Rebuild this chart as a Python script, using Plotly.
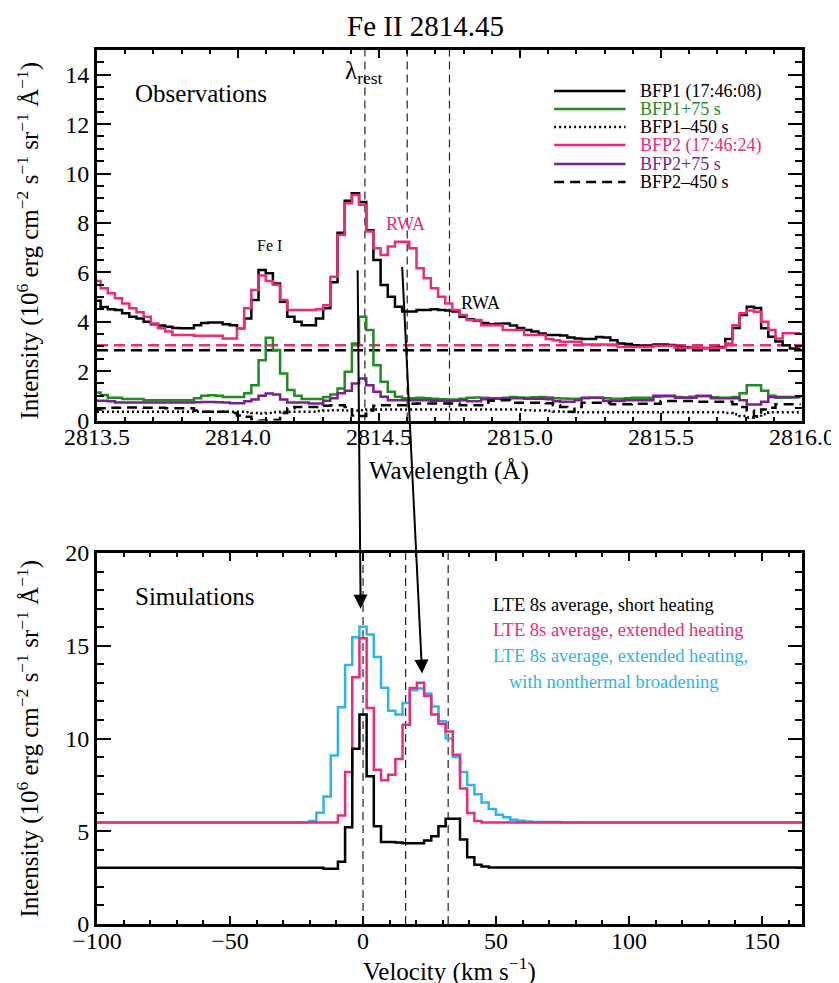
import numpy as np
import plotly.graph_objects as go

# ---------------- DATA ----------------
# Observations: IRIS spectra around Fe II 2814.45, sampled on a regular wavelength grid
WAVE_START = 2813.5
WAVE_STEP = 0.02546

bfp1 = [4.85, 4.60, 4.50, 4.47, 4.34, 4.20, 4.13, 4.00, 3.90, 3.85,
        3.80, 3.75, 3.73, 3.73, 3.86, 3.95, 3.97, 3.97, 3.90, 3.86,
        3.73, 4.13, 4.88, 6.09, 5.96, 5.55, 4.81, 4.20, 4.00, 3.86,
        3.86, 4.13, 4.54, 5.60, 7.60, 8.90, 9.20, 8.85, 7.70, 6.50,
        5.49, 5.01, 4.61, 4.41, 4.41, 4.47, 4.47, 4.50, 4.47, 4.45,
        4.41, 4.20, 4.10, 4.05, 3.95, 3.90, 3.92, 3.93, 3.85, 3.75,
        3.66, 3.60, 3.52, 3.46, 3.46, 3.44, 3.36, 3.32, 3.30, 3.30,
        3.38, 3.36, 3.25, 3.12, 3.10, 3.05, 3.03, 3.03, 3.08, 3.08,
        3.06, 2.98, 2.97, 2.95, 2.94, 2.93, 2.96, 2.98, 3.30, 3.75,
        4.27, 4.61, 4.55, 3.73, 3.39, 3.20, 3.05, 2.92, 2.90]

bfp1_p75 = [1.13, 1.03, 0.92, 0.92, 0.87, 0.87, 0.87, 0.82, 0.82, 0.82,
            0.82, 0.82, 0.82, 0.82, 0.90, 1.00, 1.02, 1.00, 0.95, 0.95,
            0.95, 1.10, 1.43, 2.44, 3.35, 2.85, 1.90, 1.23, 1.00, 0.87,
            0.87, 0.87, 0.95, 1.05, 1.30, 1.97, 3.12, 4.20, 3.66, 2.24,
            1.57, 1.16, 0.96, 0.90, 0.90, 0.92, 0.90, 0.88, 0.86, 0.85,
            0.85, 0.88, 0.92, 0.93, 0.92, 0.90, 0.90, 0.92, 0.95, 0.93,
            0.92, 0.94, 0.95, 0.93, 0.90, 0.89, 0.88, 0.88, 0.90, 0.92,
            0.92, 0.90, 0.88, 0.88, 0.90, 0.92, 0.92, 0.92, 0.96, 0.98,
            0.98, 0.95, 0.93, 0.96, 0.98, 0.98, 0.94, 0.92, 0.92, 0.95,
            1.10, 1.43, 1.43, 1.20, 1.00, 0.92, 0.92, 0.93, 0.95]

bfp1_m450 = [0.35, 0.35, 0.35, 0.35, 0.35, 0.35, 0.35, 0.35, 0.35, 0.35,
             0.35, 0.35, 0.35, 0.35, 0.35, 0.35, 0.35, 0.35, 0.35, 0.35,
             0.35, 0.33, 0.30, 0.28, 0.30, 0.33, 0.35, 0.35, 0.35, 0.35,
             0.35, 0.38, 0.40, 0.42, 0.42, 0.40, 0.40, 0.42, 0.45, 0.45,
             0.45, 0.45, 0.45, 0.45, 0.45, 0.45, 0.45, 0.45, 0.45, 0.45,
             0.45, 0.45, 0.45, 0.45, 0.45, 0.45, 0.45, 0.45, 0.45, 0.45,
             0.42, 0.40, 0.40, 0.38, 0.36, 0.35, 0.34, 0.33, 0.33, 0.33,
             0.33, 0.33, 0.33, 0.33, 0.33, 0.33, 0.33, 0.33, 0.33, 0.33,
             0.33, 0.33, 0.33, 0.33, 0.33, 0.33, 0.33, 0.33, 0.30, 0.25,
             0.18, 0.12, 0.15, 0.25, 0.33, 0.33, 0.33, 0.33, 0.33]

bfp2 = [5.65, 5.35, 5.15, 4.95, 4.74, 4.54, 4.38, 4.20, 3.93, 3.73,
        3.60, 3.46, 3.46, 3.46, 3.43, 3.43, 3.43, 3.43, 3.32, 3.32,
        3.73, 4.54, 5.28, 5.87, 5.65, 5.50, 4.88, 4.47, 4.47, 4.47,
        4.47, 4.50, 4.67, 5.82, 7.51, 8.80, 9.13, 8.73, 7.65, 6.97,
        6.70, 7.04, 7.24, 7.24, 6.97, 6.16, 5.76, 5.35, 5.01, 4.74,
        4.47, 4.27, 4.07, 4.07, 3.86, 3.86, 3.86, 3.66, 3.66, 3.66,
        3.46, 3.46, 3.46, 3.30, 3.25, 3.19, 3.19, 3.19, 3.08, 3.08,
        3.08, 3.08, 3.08, 2.98, 2.98, 2.98, 2.98, 2.98, 3.03, 3.03,
        3.03, 2.95, 2.95, 2.95, 2.95, 2.95, 2.95, 2.95, 3.12, 3.86,
        4.34, 4.45, 4.40, 4.00, 3.66, 3.32, 3.53, 3.53, 3.53]

bfp2_p75 = [0.80, 0.80, 0.78, 0.73, 0.73, 0.73, 0.73, 0.73, 0.73, 0.73,
            0.73, 0.73, 0.73, 0.73, 0.74, 0.75, 0.75, 0.74, 0.73, 0.70,
            0.70, 0.78, 0.85, 1.00, 1.09, 1.05, 0.85, 0.73, 0.73, 0.73,
            0.69, 0.69, 0.80, 0.90, 1.10, 1.20, 1.50, 1.70, 1.43, 1.16,
            0.96, 0.82, 0.82, 0.82, 0.82, 0.82, 0.82, 0.80, 0.80, 0.80,
            0.80, 0.82, 0.78, 0.78, 0.86, 0.88, 0.88, 0.88, 0.90, 0.90,
            0.88, 0.88, 0.88, 0.86, 0.78, 0.76, 0.76, 0.82, 0.92, 0.92,
            0.92, 0.79, 0.79, 0.79, 0.82, 0.82, 0.82, 0.82, 1.00, 1.00,
            1.00, 0.92, 0.92, 0.92, 1.00, 1.00, 0.90, 0.90, 0.90, 0.90,
            0.82, 0.65, 0.65, 0.76, 0.95, 0.95, 0.95, 0.95, 0.95]

bfp2_m450 = [0.45, 0.50, 0.52, 0.52, 0.53, 0.53, 0.53, 0.52, 0.52, 0.52,
             0.50, 0.50, 0.50, 0.50, 0.40, 0.35, 0.35, 0.35, 0.35, 0.30,
             0.20, 0.15, 0.05, 0.00, 0.00, 0.02, 0.30, 0.50, 0.55, 0.55,
             0.55, 0.55, 0.60, 0.62, 0.62, 0.55, 0.20, 0.18, 0.40, 0.60,
             0.62, 0.62, 0.62, 0.62, 0.68, 0.69, 0.69, 0.69, 0.69, 0.69,
             0.69, 0.62, 0.62, 0.62, 0.62, 0.80, 0.82, 0.82, 0.72, 0.72,
             0.72, 0.72, 0.72, 0.70, 0.62, 0.55, 0.35, 0.55, 0.72, 0.72,
             0.72, 0.72, 0.66, 0.66, 0.66, 0.68, 0.68, 0.68, 0.68, 0.79,
             0.79, 0.79, 0.79, 0.79, 0.76, 0.76, 0.76, 0.76, 0.76, 0.66,
             0.55, 0.40, 0.17, 0.45, 0.52, 0.66, 0.66, 0.66, 0.66]

# horizontal background (dashed) levels
bg_bfp2 = 3.05
bg_bfp1 = 2.84

# reference wavelengths (rest + RWA) and matching velocities
ref_waves = [2814.45, 2814.60, 2814.75]
ref_vels = [0.0, 16.0, 32.0]

# Simulations: velocity grid (km/s)
VEL_STEP = 2.7
vel = [-100.0] + [round(VEL_STEP * j, 2) for j in range(-9, 30)] + [165.0]

sim_short = [3.03,
             3.03, 3.03, 3.03, 3.03, 2.98, 2.98, 3.35, 5.21, 9.45, 11.30,
             7.96, 5.27, 4.42, 4.42, 4.40, 4.35, 4.35, 4.35, 4.50, 4.73,
             5.27, 5.68, 5.68, 4.55, 3.60, 3.20, 3.10, 3.05, 3.05, 3.05,
             3.05, 3.05, 3.05, 3.05, 3.05, 3.05, 3.05, 3.05, 3.05,
             3.05]
sim_extended = [5.47,
                5.47, 5.47, 5.47, 5.47, 5.47, 5.47, 5.85, 8.20, 13.30, 15.40,
                11.64, 8.32, 7.75, 8.05, 8.90, 10.74, 12.72, 13.00, 12.30, 11.30,
                10.80, 10.38, 9.13, 7.30, 5.98, 5.55, 5.47, 5.47, 5.47, 5.47,
                5.47, 5.47, 5.47, 5.47, 5.47, 5.47, 5.47, 5.47, 5.47,
                5.47]
sim_nonthermal = [5.47,
                  5.47, 5.47, 5.55, 6.00, 6.88, 9.08, 11.68, 13.96, 15.46, 16.02,
                  15.60, 14.40, 12.74, 11.50, 11.30, 11.91, 12.60, 12.70, 12.42, 11.73,
                  10.93, 10.00, 9.00, 8.20, 7.50, 7.00, 6.55, 6.20, 5.89, 5.75,
                  5.62, 5.57, 5.53, 5.50, 5.50, 5.50, 5.50, 5.47, 5.47,
                  5.47]

# ---------------- STYLE ----------------
FONT = "Liberation Serif, Times New Roman, serif"
BLACK = "#000000"
GREEN = "#1f8c1f"
PINK = "#ec2a7d"
PURPLE = "#7b1f8e"
CYAN = "#2cb4ec"

W, H = 839, 983
L, R, T, B = 89, 800, 42, 916


def PX(x):
    return (x - L) / (R - L)


def PY(y):
    return (B - y) / (B - T)


wave = WAVE_START + WAVE_STEP * np.arange(len(bfp1))

fig = go.Figure()

# background levels (drawn across the full wavelength range)
for lvl, col in [(bg_bfp2, PINK), (bg_bfp1, BLACK)]:
    fig.add_trace(go.Scatter(x=[WAVE_START, 2816.0], y=[lvl, lvl], mode="lines",
                             line=dict(color=col, width=2.5, dash="11px,6px"),
                             xaxis="x", yaxis="y", showlegend=False, hoverinfo="skip"))

obs = [
    (bfp1, BLACK, "solid", "BFP1 (17:46:08)"),
    (bfp1_p75, GREEN, "solid", "BFP1+75 s"),
    (bfp1_m450, BLACK, "2px,3px", "BFP1\u2013450 s"),
    (bfp2, PINK, "solid", "BFP2 (17:46:24)"),
    (bfp2_p75, PURPLE, "solid", "BFP2+75 s"),
    (bfp2_m450, BLACK, "10px,6px", "BFP2\u2013450 s"),
]
for vals, col, dash, name in obs:
    fig.add_trace(go.Scatter(x=wave, y=vals, mode="lines", name=name,
                             line=dict(color=col, width=2.5, dash=dash, shape="hvh"),
                             xaxis="x", yaxis="y", showlegend=False))

sims = [
    (sim_nonthermal, CYAN),
    (sim_extended, PINK),
    (sim_short, BLACK),
]
for vals, col in sims:
    fig.add_trace(go.Scatter(x=vel, y=vals, mode="lines",
                             line=dict(color=col, width=2.5, shape="hvh"),
                             xaxis="x2", yaxis="y2", showlegend=False))

shapes = []
for w in ref_waves:
    shapes.append(dict(type="line", xref="x", yref="y domain", x0=w, x1=w, y0=0, y1=1,
                       line=dict(color="#222222", width=1.2, dash="8px,5px"), layer="below"))
for v in ref_vels:
    shapes.append(dict(type="line", xref="x2", yref="y2 domain", x0=v, x1=v, y0=0, y1=1,
                       line=dict(color="#222222", width=1.2, dash="8px,5px"), layer="below"))

# manual legend (top panel)
leg_rows = [83, 101, 119, 137, 156, 174]
leg_text_colors = [BLACK, GREEN, BLACK, PINK, PURPLE, BLACK]
annotations = []
for (vals, col, dash, name), yy, tcol in zip(obs, leg_rows, leg_text_colors):
    shapes.append(dict(type="line", xref="paper", yref="paper",
                       x0=PX(550), x1=PX(622), y0=PY(yy), y1=PY(yy),
                       line=dict(color=col, width=2.5, dash=dash)))
    annotations.append(dict(text=name, xref="paper", yref="paper", x=PX(635), y=PY(yy),
                            xanchor="left", yanchor="middle", showarrow=False,
                            font=dict(family=FONT, size=18, color=tcol)))


def txt(s, x, y, size, color=BLACK, xanchor="center", angle=0):
    annotations.append(dict(text=s, xref="paper", yref="paper", x=PX(x), y=PY(y),
                            xanchor=xanchor, yanchor="middle", showarrow=False,
                            textangle=angle, font=dict(family=FONT, size=size, color=color)))


txt("Fe II 2814.45", 420, 18, 29)
txt("Observations", 194, 85, 25)
txt("\u03bb<sub>rest</sub>", 358, 64, 25)
txt("Fe I", 263, 237, 16)
txt("RWA", 400, 216, 18, PINK)
txt("RWA", 476, 295, 18)
txt("Simulations", 187, 589, 25)
txt("LTE 8s average, short heating", 486, 597, 18.5, BLACK, "left")
txt("LTE 8s average, extended heating", 486, 622, 18.5, PINK, "left")
txt("LTE 8s average, extended heating,", 486, 648, 18.5, CYAN, "left")
txt("with nonthermal broadening", 502, 674, 18.5, CYAN, "left")
ytitle = "Intensity (10<sup>6</sup> erg cm<sup>\u22122</sup> s<sup>\u22121</sup> sr<sup>\u22121</sup> \u00c5<sup>\u22121</sup>)"
txt(ytitle, 19, 233, 25, angle=-90)
txt(ytitle, 19, 731, 25, angle=-90)
txt("Wavelength (\u00c5)", 444, 463, 25)
txt("Velocity (km s<sup>\u22121</sup>)", 444, 961, 25)

# arrows from observed peaks to simulated peaks
annotations.append(dict(x=-0.9, y=17.0, xref="x2", yref="y2", ax=-3, ay=-340,
                        showarrow=True, arrowhead=2, arrowsize=1.4, arrowwidth=2,
                        arrowcolor=BLACK, text=""))
annotations.append(dict(x=22.2, y=13.5, xref="x2", yref="y2", ax=-20, ay=-408,
                        showarrow=True, arrowhead=2, arrowsize=1.4, arrowwidth=2,
                        arrowcolor=BLACK, text=""))

axis_common = dict(showline=True, linewidth=3, linecolor=BLACK, mirror="allticks",
                   ticks="inside", tickwidth=2, tickcolor=BLACK, showgrid=False,
                   zeroline=False, tickfont=dict(family=FONT, size=24, color=BLACK))

top_dom = [PY(412.5), 1.0]
bot_dom = [0.0, PY(545)]

fig.update_layout(
    width=W, height=H,
    margin=dict(l=L, r=W - R, t=T, b=H - B),
    paper_bgcolor="white", plot_bgcolor="white",
    showlegend=False,
    xaxis=dict(domain=[0, 1], anchor="y", range=[2813.5, 2816.0], tick0=2813.5, dtick=0.5,
               tickformat=".1f", ticklen=8, ticklabelstandoff=-7,
               minor=dict(ticks="inside", dtick=0.1, ticklen=4, tickwidth=1.5, tickcolor=BLACK),
               **axis_common),
    yaxis=dict(domain=top_dom, anchor="x", range=[0, 15], tick0=0, dtick=2, ticklen=14,
               minor=dict(ticks="inside", dtick=0.5, ticklen=7, tickwidth=1.5, tickcolor=BLACK),
               **axis_common),
    xaxis2=dict(domain=[0, 1], anchor="y2", range=[-100, 165], tick0=-100, dtick=50, ticklen=8,
                ticklabelstandoff=-7,
                minor=dict(ticks="inside", dtick=10, ticklen=4, tickwidth=1.5, tickcolor=BLACK),
                **axis_common),
    yaxis2=dict(domain=bot_dom, anchor="x2", range=[0, 20], tick0=0, dtick=5, ticklen=14,
                minor=dict(ticks="inside", dtick=1, ticklen=7, tickwidth=1.5, tickcolor=BLACK),
                **axis_common),
    shapes=shapes,
    annotations=annotations,
)

fig.write_html("out.html")
